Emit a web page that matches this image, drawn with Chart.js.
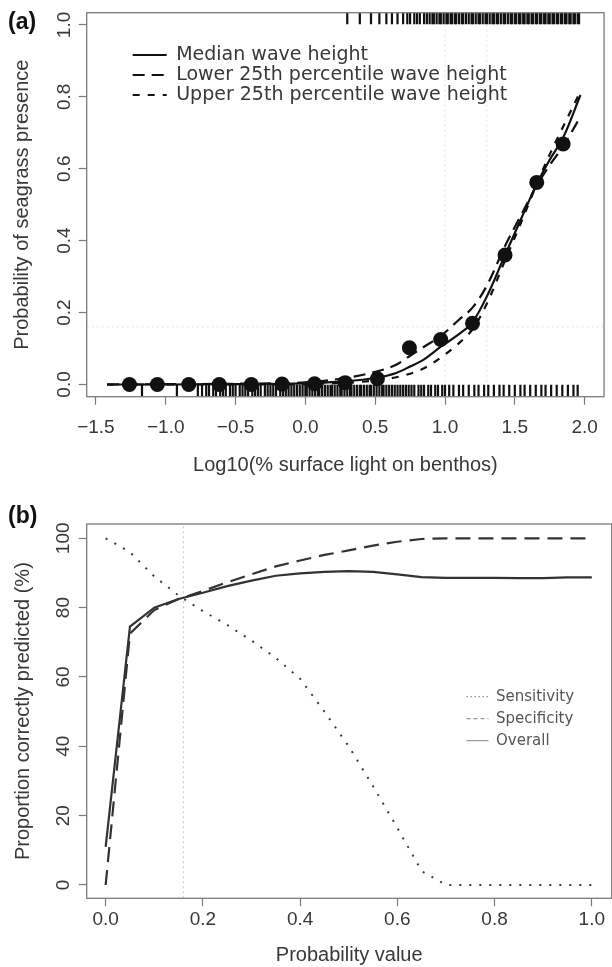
<!DOCTYPE html>
<html>
<head>
<meta charset="utf-8">
<script src="https://cdn.jsdelivr.net/npm/chart.js@4.4.1/dist/chart.umd.min.js"></script>
<style>
  body { margin: 0; background: #fff; }
  #wrap { position: relative; width: 612px; height: 967px; }
  canvas { position: absolute; left: 0; }
  .tag { position: absolute; left: 8px; font: bold 23px "Liberation Sans", Arial, sans-serif; line-height: 23px; color: #111; }
</style>
</head>
<body>
<div id="wrap">
  <canvas id="chartA" width="612" height="490" style="top:0"></canvas>
  <canvas id="chartB" width="612" height="477" style="top:490px"></canvas>
  <div class="tag" style="top:10px">(a)</div>
  <div class="tag" style="top:504px">(b)</div>
</div>
<script>
// ---- panel (a): seagrass presence against light ----
const aTicksX = [-1.5, -1.0, -0.5, 0.0, 0.5, 1.0, 1.5, 2.0];
const aTicksY = [0, 0.2, 0.4, 0.6, 0.8, 1.0];

// binned observed proportions
const binLight = [-1.26, -1.06, -0.835, -0.617, -0.387, -0.167, 0.066, 0.285, 0.516, 0.745, 0.969, 1.197, 1.43, 1.657, 1.846];
const binPresence = [0.0, 0.0, 0.0, 0.0, 0.0, 0.001, 0.002, 0.005, 0.016, 0.102, 0.125, 0.17, 0.36, 0.562, 0.669];

// fitted curves
const curveLight = [-1.42, -1.0, -0.5, 0.0, 0.25, 0.5, 0.65, 0.75, 0.85, 0.97, 1.1, 1.2, 1.3, 1.43, 1.55, 1.66, 1.75, 1.85, 1.97];
const medianWave = [0.0, 0.0, 0.001, 0.003, 0.008, 0.018, 0.032, 0.05, 0.07, 0.105, 0.14, 0.175, 0.245, 0.36, 0.465, 0.56, 0.625, 0.69, 0.805];
const lowerWave  = [0.0, 0.001, 0.002, 0.006, 0.016, 0.035, 0.055, 0.08, 0.105, 0.135, 0.18, 0.215, 0.275, 0.385, 0.475, 0.555, 0.61, 0.665, 0.745];
const upperWave  = [0.0, 0.0, 0.0, 0.001, 0.004, 0.011, 0.02, 0.03, 0.045, 0.075, 0.115, 0.155, 0.225, 0.345, 0.455, 0.56, 0.64, 0.72, 0.815];

// rug of raw sites (absent along the bottom, present along the top)
const rugAbsent = [-1.17, -0.92, -0.77, -0.74, -0.71, -0.69, -0.66, -0.64, -0.61, -0.59, -0.57, -0.54, -0.52, -0.50, -0.47,
  -0.45, -0.43, -0.41, -0.38, -0.36, -0.34, -0.32, -0.29, -0.27, -0.25, -0.23, -0.21, -0.18, -0.16, -0.14, -0.12, -0.10,
  -0.08, -0.06, -0.04, -0.02, 0.00, 0.01, 0.03, 0.05, 0.07, 0.09, 0.10, 0.12, 0.14, 0.16, 0.18, 0.19, 0.21, 0.23, 0.25,
  0.26, 0.28, 0.30, 0.32, 0.33, 0.35, 0.37, 0.39, 0.40, 0.42, 0.44, 0.46, 0.47, 0.49, 0.51, 0.53, 0.55, 0.56, 0.58, 0.60,
  0.62, 0.64, 0.66, 0.68, 0.70, 0.72, 0.74, 0.76, 0.78, 0.81, 0.83, 0.85, 0.88, 0.90, 0.93, 0.95, 0.98, 1.00, 1.03, 1.06,
  1.10, 1.13, 1.17, 1.21, 1.24, 1.28, 1.31, 1.35, 1.39, 1.42, 1.46, 1.50, 1.54, 1.57, 1.61, 1.65, 1.69, 1.72, 1.76, 1.80,
  1.84, 1.88, 1.92, 1.95];
const rugPresent = [0.30, 0.39, 0.47, 0.53, 0.58, 0.62, 0.66, 0.70, 0.73, 0.75, 0.78, 0.80, 0.82, 0.85, 0.87, 0.89, 0.91,
  0.92, 0.94, 0.96, 0.97, 0.99, 1.01, 1.02, 1.04, 1.05, 1.07, 1.08, 1.10, 1.12, 1.13, 1.15, 1.17, 1.19, 1.20, 1.22, 1.24,
  1.25, 1.27, 1.29, 1.30, 1.32, 1.34, 1.35, 1.37, 1.38, 1.40, 1.42, 1.43, 1.45, 1.47, 1.48, 1.50, 1.51, 1.53, 1.54, 1.56,
  1.57, 1.59, 1.60, 1.62, 1.63, 1.65, 1.66, 1.68, 1.69, 1.71, 1.72, 1.74, 1.75, 1.77, 1.78, 1.80, 1.81, 1.83, 1.84, 1.86,
  1.87, 1.89, 1.90, 1.92, 1.93, 1.95, 1.96];

// faint threshold guides
const cutLight = [1.0, 1.3];
const cutProb = [0.16];

// ---- panel (b): proportion correctly predicted ----
const bTicksX = [0, 0.2, 0.4, 0.6, 0.8, 1.0];
const bTicksY = [0, 20, 40, 60, 80, 100];
const threshold   = [0, 0.05, 0.1, 0.15, 0.2, 0.25, 0.3, 0.35, 0.4, 0.45, 0.5, 0.55, 0.6, 0.65, 0.7, 0.75, 0.8, 0.85, 0.9, 0.95, 1.0];
const sensitivity = [100, 96, 89, 83.5, 79, 75, 70.5, 65.5, 59.5, 50, 40, 28.5, 16.5, 4, 0, 0, 0, 0, 0, 0, 0];
const specificity = [0, 72.5, 79.3, 82.5, 84.8, 87.3, 89.6, 91.9, 93.6, 95.2, 96.5, 97.9, 99, 99.8, 100, 100, 100, 100, 100, 100, 100];
const overall     = [11, 74.5, 80, 82.5, 84.3, 86.2, 87.8, 89.2, 89.9, 90.3, 90.5, 90.3, 89.6, 88.8, 88.6, 88.6, 88.6, 88.5, 88.5, 88.7, 88.7];
const cutBest = [0.16];

const ink = '#111';
const axisGrey = '#7a7a7a';
const textGrey = '#383838';
const faint = '#e2e2e2';
const sans = "'Liberation Sans', Arial, sans-serif";

function pts(xs, ys) {
  return xs.map((x, i) => ({x: x, y: ys[i]}));
}
function fmt1(v) {
  return (v < 0 ? '\u2212' : '') + Math.abs(v).toFixed(1);
}

// box round the plot region like R's bty="o"
const framePlugin = {
  id: 'frame',
  afterDatasetsDraw(chart) {
    const a = chart.chartArea, c = chart.ctx;
    c.save();
    c.strokeStyle = axisGrey;
    c.lineWidth = 1.3;
    c.strokeRect(a.left, a.top, a.right - a.left, a.bottom - a.top);
    c.restore();
  }
};

// move the in-plot legend to where the original puts it
const legendSpot = {
  id: 'legendSpot',
  afterLayout(chart, args, opts) {
    const lg = chart.legend;
    if (!lg || opts.x == null) return;
    lg.left = opts.x;
    lg.top = opts.y;
    lg.right = chart.width;
    lg.bottom = chart.height;
  }
};

function axisX(ticks, min, max, height, pad, title, titlePad, fmt) {
  return {
    type: 'linear', min: min, max: max,
    afterBuildTicks: s => { s.ticks = ticks.map(v => ({value: v})); },
    afterFit: s => { s.height = height; },
    border: {display: false},
    grid: {display: true, drawOnChartArea: false, drawTicks: true, tickLength: 8, tickWidth: 1.2, tickColor: axisGrey},
    ticks: {padding: pad, color: textGrey, maxRotation: 0, font: {family: sans, size: 19}, callback: v => fmt(v)},
    title: {display: true, text: title, color: textGrey, font: {family: sans, size: 20}, padding: {top: 0, bottom: titlePad}}
  };
}
function axisY(ticks, min, max, pad, title, titlePad, fmt) {
  return {
    type: 'linear', min: min, max: max,
    afterBuildTicks: s => { s.ticks = ticks.map(v => ({value: v})); },
    afterFit: s => { s.width = 86.7; },
    border: {display: false},
    grid: {display: true, drawOnChartArea: false, drawTicks: true, tickLength: 8, tickWidth: 1.2, tickColor: axisGrey},
    ticks: {padding: pad, color: textGrey, minRotation: 90, maxRotation: 90, crossAlign: 'center',
      font: {family: sans, size: 19}, callback: v => fmt(v)},
    title: {display: true, text: title, color: textGrey, font: {family: sans, size: 20}, padding: {top: titlePad, bottom: 0}}
  };
}

// ---------- chart (a) ----------
const ax = {min: -1.566, max: 2.139};
const ay = {min: -0.034, max: 1.034};

const dsA = [
  {label: 'Median wave height', data: pts(curveLight, medianWave), showLine: true,
    borderColor: ink, borderWidth: 2.2, pointRadius: 0, cubicInterpolationMode: 'monotone'},
  {label: 'Lower 25th percentile wave height', data: pts(curveLight, lowerWave), showLine: true,
    borderColor: ink, borderWidth: 2.2, borderDash: [12, 7], pointRadius: 0, cubicInterpolationMode: 'monotone'},
  {label: 'Upper 25th percentile wave height', data: pts(curveLight, upperWave), showLine: true,
    borderColor: ink, borderWidth: 2.2, borderDash: [7, 8], pointRadius: 0, cubicInterpolationMode: 'monotone'},
  {label: 'Binned proportion', data: pts(binLight, binPresence), order: -1,
    pointRadius: 7.5, pointBackgroundColor: ink, pointBorderColor: ink, pointBorderWidth: 0},
  {label: 'Absent', data: rugAbsent.map(x => ({x: x, y: -0.017})),
    pointStyle: 'line', pointRotation: 90, pointRadius: 5.75, pointBorderColor: '#111', pointBorderWidth: 2.2},
  {label: 'Present', data: rugPresent.map(x => ({x: x, y: 1.018})),
    pointStyle: 'line', pointRotation: 90, pointRadius: 5.75, pointBorderColor: '#111', pointBorderWidth: 2.2}
];
cutLight.forEach(c => dsA.push({label: 'cut', data: [{x: c, y: ay.min}, {x: c, y: ay.max}], showLine: true,
  borderColor: faint, borderWidth: 1, borderDash: [2, 3], pointRadius: 0, order: 5}));
cutProb.forEach(c => dsA.push({label: 'cut', data: [{x: ax.min, y: c}, {x: ax.max, y: c}], showLine: true,
  borderColor: faint, borderWidth: 1, borderDash: [2, 3], pointRadius: 0, order: 5}));

new Chart(document.getElementById('chartA'), {
  type: 'scatter',
  data: {datasets: dsA},
  options: {
    responsive: false,
    animation: false,
    events: [],
    layout: {padding: {top: 12.7, right: 1.3, left: 0, bottom: 0}},
    scales: {
      x: axisX(aTicksX, ax.min, ax.max, 93.3, 12, 'Log10(% surface light on benthos)', 13, fmt1),
      y: axisY(aTicksY, ay.min, ay.max, 0.5, 'Probability of seagrass presence', 10, fmt1)
    },
    plugins: {
      tooltip: {enabled: false},
      legend: {
        position: 'chartArea',
        align: 'start',
        labels: {
          usePointStyle: true, pointStyle: 'line', pointStyleWidth: 34, padding: 1,
          color: textGrey, font: {family: "'DejaVu Sans', sans-serif", size: 19},
          generateLabels: chart => chart.data.datasets.slice(0, 3).map((d, i) => ({
            text: d.label, strokeStyle: d.borderColor, lineWidth: d.borderWidth,
            lineDash: d.borderDash || [], pointStyle: 'line', fontColor: textGrey,
            hidden: false, datasetIndex: i
          }))
        }
      },
      legendSpot: {x: 131.7, y: 44.5}
    }
  },
  plugins: [framePlugin, legendSpot]
});

// ---------- chart (b) ----------
const bx = {min: -0.039, max: 1.041};
const by = {min: -3.84, max: 104.12};
const legendDashB = [[1.5, 2.5], [4, 3], []];

const dsB = [
  {label: 'Sensitivity', data: pts(threshold, sensitivity), showLine: true,
    borderColor: '#3a3a3a', borderWidth: 2, borderDash: [2, 8], pointRadius: 0},
  {label: 'Specificity', data: pts(threshold, specificity), showLine: true,
    borderColor: '#333', borderWidth: 2.2, borderDash: [15, 8], pointRadius: 0},
  {label: 'Overall', data: pts(threshold, overall), showLine: true,
    borderColor: '#333', borderWidth: 2.2, pointRadius: 0}
];
cutBest.forEach(c => dsB.push({label: 'cut', data: [{x: c, y: by.min}, {x: c, y: by.max}], showLine: true,
  borderColor: '#cfcfcf', borderWidth: 1.2, borderDash: [2, 3], pointRadius: 0, order: 5}));

new Chart(document.getElementById('chartB'), {
  type: 'scatter',
  data: {datasets: dsB},
  options: {
    responsive: false,
    animation: false,
    events: [],
    layout: {padding: {top: 34, right: 0.3, left: 0, bottom: 0}},
    scales: {
      x: axisX(bTicksX, bx.min, bx.max, 68.7, 2.3, 'Probability value', 0, fmt1),
      y: axisY(bTicksY, by.min, by.max, -1, 'Proportion correctly predicted (%)', 11, v => String(v))
    },
    plugins: {
      tooltip: {enabled: false},
      legend: {
        position: 'chartArea',
        align: 'start',
        labels: {
          usePointStyle: true, pointStyle: 'line', pointStyleWidth: 22, padding: 7,
          color: '#555', font: {family: "'DejaVu Sans', sans-serif", size: 15},
          generateLabels: chart => chart.data.datasets.slice(0, 3).map((d, i) => ({
            text: d.label, strokeStyle: '#9a9a9a', lineWidth: 1.3,
            lineDash: legendDashB[i], pointStyle: 'line', fontColor: '#555',
            hidden: false, datasetIndex: i
          }))
        }
      },
      legendSpot: {x: 459.5, y: 192.2}
    }
  },
  plugins: [framePlugin, legendSpot]
});
</script>
</body>
</html>
